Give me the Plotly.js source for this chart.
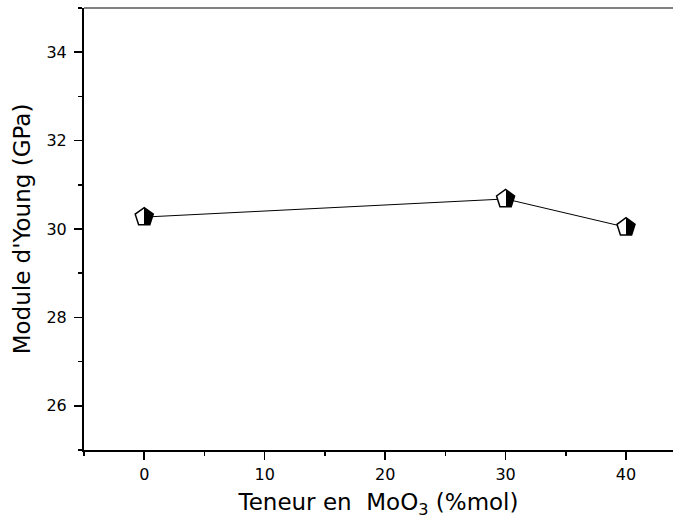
<!DOCTYPE html>
<html>
<head>
<meta charset="utf-8">
<script src="https://cdn.plot.ly/plotly-3.0.1.min.js"></script>
<style>
html,body{margin:0;padding:0;background:#fff;overflow:hidden;}
#plot{width:673px;height:530px;}
</style>
</head>
<body>
<div id="plot"></div>
<script>
const moo3Content = [0, 30, 40];
const youngModulus = [30.27, 30.68, 30.04];
const xTickValues = [0, 10, 20, 30, 40];
const yTickValues = [26, 28, 30, 32, 34];

const fontFam = '"DejaVu Sans", "Liberation Sans", Arial, sans-serif';

const trace = {
  x: moo3Content,
  y: youngModulus,
  type: 'scatter',
  mode: 'lines+markers',
  line: {color: '#000', width: 1},
  marker: {
    symbol: 'pentagon',
    size: 19,
    color: '#ffffff',
    gradient: {type: 'horizontal', color: '#000000'},
    line: {color: '#000', width: 1.5}
  },
  showlegend: false,
  cliponaxis: false
};

const layout = {
  width: 673,
  height: 530,
  margin: {l: 84, r: 0, t: 7.5, b: 80},
  paper_bgcolor: '#fff',
  plot_bgcolor: '#fff',
  font: {family: fontFam, color: '#000'},
  xaxis: {
    range: [-5, 43.9],
    tickvals: xTickValues,
    ticktext: xTickValues.map(String),
    ticks: 'outside', ticklen: 8, tickwidth: 1.5, tickcolor: '#000',
    ticklabelstandoff: 1,
    minor: {ticks: 'outside', dtick: 5, tick0: 0, ticklen: 4, tickwidth: 1.5, tickcolor: '#000', showgrid: false},
    showline: true, linewidth: 2, linecolor: '#000',
    showgrid: false, zeroline: false,
    tickfont: {family: fontFam, size: 16, color: '#000'},
    title: {text: 'Teneur en  MoO<sub>3</sub> (%mol)', font: {family: fontFam, size: 23, color: '#000'}, standoff: 11}
  },
  yaxis: {
    range: [25, 35],
    tickvals: yTickValues,
    ticktext: yTickValues.map(String),
    ticks: 'outside', ticklen: 8, tickwidth: 1.5, tickcolor: '#000',
    ticklabelstandoff: 4,
    minor: {ticks: 'outside', dtick: 1, tick0: 0, ticklen: 4, tickwidth: 1.5, tickcolor: '#000', showgrid: false},
    showline: true, linewidth: 2, linecolor: '#000',
    showgrid: false, zeroline: false,
    tickfont: {family: fontFam, size: 16, color: '#000'},
    title: {text: "Module d'Young (GPa)", font: {family: fontFam, size: 23, color: '#000'}, standoff: 9}
  },
  shapes: [{
    type: 'line', xref: 'paper', yref: 'paper', x0: 0, x1: 1, y0: 1, y1: 1,
    line: {color: '#808080', width: 2}
  }]
};

Plotly.newPlot('plot', [trace], layout, {displayModeBar: false, staticPlot: true}).then(function(gd){
  // make the horizontal gradient a hard split: left half white, right half black
  const grads = gd.querySelectorAll('linearGradient');
  grads.forEach(function(g){
    while (g.firstChild) g.removeChild(g.firstChild);
    [[0,'#000000'],[50,'#000000'],[50,'#ffffff'],[100,'#ffffff']].forEach(function(s){
      const st = document.createElementNS('http://www.w3.org/2000/svg','stop');
      st.setAttribute('offset', s[0] + '%');
      st.setAttribute('stop-color', s[1]);
      g.appendChild(st);
    });
  });
});
</script>
</body>
</html>
